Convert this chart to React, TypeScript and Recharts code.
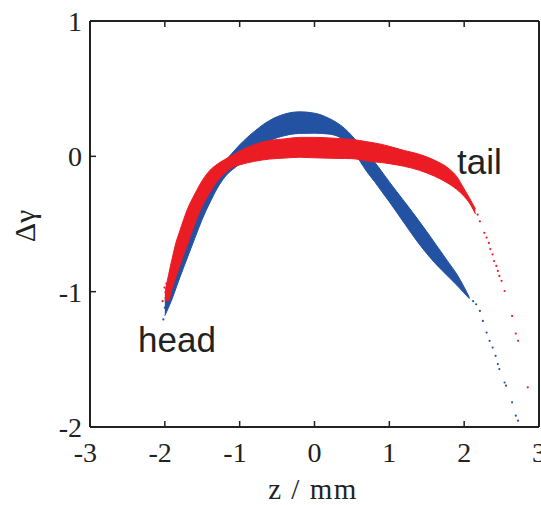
import React from 'react';
import { ComposedChart, Area, Scatter, XAxis, YAxis } from 'recharts';

// z positions (mm) where the two bands are sampled
const zGrid = [
  -2.0, -1.95, -1.9, -1.85, -1.8, -1.7, -1.6, -1.5, -1.4, -1.3, -1.2, -1.1, -1.0,
  -0.8, -0.6, -0.4, -0.2, 0, 0.2, 0.4, 0.5, 0.6, 0.7, 0.8, 0.9, 1.0,
  1.2, 1.4, 1.6, 1.8, 1.9, 2.0, 2.07, 2.15,
];

// blue band (upper / lower edge of delta gamma)
const blueHigh = [
  -1.046, -0.983, -0.876, -0.776, -0.706, -0.542, -0.405, -0.289, -0.199, -0.115, -0.039, 0.024, 0.085,
  0.186, 0.265, 0.312, 0.329, 0.319, 0.279, 0.207, 0.152, 0.088, 0.024, -0.04, -0.113, -0.189,
  -0.333, -0.48, -0.634, -0.791, -0.869, -0.967, -1.043, null,
];
const blueLow = [
  -1.178, -1.116, -1.049, -0.973, -0.896, -0.751, -0.606, -0.464, -0.344, -0.237, -0.154, -0.099, -0.058,
  0.024, 0.113, 0.153, 0.169, 0.171, 0.164, 0.117, 0.052, -0.029, -0.114, -0.185, -0.261, -0.336,
  -0.494, -0.649, -0.783, -0.896, -0.951, -1.01, -1.052, null,
];

// red band
const redHigh = [
  -1.01, -0.875, -0.75, -0.635, -0.551, -0.393, -0.279, -0.179, -0.105, -0.058, -0.024, 0.007, 0.038,
  0.088, 0.117, 0.129, 0.14, 0.14, 0.136, 0.129, 0.125, 0.117, 0.108, 0.099, 0.088, 0.074,
  0.043, 0.015, -0.028, -0.093, -0.149, -0.241, -0.307, -0.388,
];
const redLow = [
  -1.069, -1.066, -0.971, -0.889, -0.808, -0.653, -0.5, -0.368, -0.269, -0.184, -0.126, -0.082, -0.063,
  -0.037, -0.02, -0.013, -0.007, -0.011, -0.014, -0.016, -0.017, -0.024, -0.034, -0.041, -0.046, -0.054,
  -0.074, -0.103, -0.146, -0.205, -0.244, -0.296, -0.344, -0.425,
];

// loose particles at the ends of the bunch
const blueDotZ = [2.12, 2.16, 2.21, 2.25, 2.3, 2.34, 2.38, 2.42, 2.45, 2.47, 2.54, 2.56, 2.64, 2.69, 2.72, -2.02, -2.0];
const blueDotY = [-1.07, -1.093, -1.142, -1.216, -1.302, -1.363, -1.413, -1.474, -1.535, -1.572, -1.671, -1.695, -1.818, -1.916, -1.953, -1.205, -1.118];
const redDotZ = [2.18, 2.21, 2.27, 2.3, 2.33, 2.35, 2.38, 2.4, 2.43, 2.45, 2.47, 2.5, 2.54, 2.64, 2.69, 2.72, 2.85, -2.03, -2.005, -1.98];
const redDotY = [-0.43, -0.48, -0.565, -0.6, -0.64, -0.685, -0.724, -0.774, -0.81, -0.847, -0.884, -0.92, -0.995, -1.179, -1.31, -1.363, -1.707, -1.07, -0.97, -0.94];

const xTicks = [-3, -2, -1, 0, 1, 2, 3];
const yTicks = [-2, -1, 0, 1];

const BLUE = '#2352a2';
const RED = '#ec1c24';
const INK = '#222';
const SERIF = '"Liberation Serif", "Times New Roman", serif';
const SANS = '"Liberation Sans", Arial, sans-serif';

const bandData = zGrid.map((z, i) => ({
  z,
  blue: blueHigh[i] == null ? null : [blueLow[i], blueHigh[i]],
  red: [redLow[i], redHigh[i]],
}));
const blueDots = blueDotZ.map((z, i) => ({ z, y: blueDotY[i] }));
const redDots = redDotZ.map((z, i) => ({ z, y: redDotY[i] }));

// ticks point inward, MATLAB style
const BottomTick = (props: any) => {
  const { x, y, payload } = props;
  return (
    <g>
      <line x1={x} y1={y} x2={x} y2={y - 6} stroke={INK} strokeWidth={1.5} />
      <text x={x + 7} y={y + 35} textAnchor="end" fontFamily={SERIF} fontSize={28} fill={INK}>
        {payload.value}
      </text>
    </g>
  );
};

const LeftTick = (props: any) => {
  const { x, y, payload } = props;
  return (
    <g>
      <line x1={x} y1={y} x2={x + 6} y2={y} stroke={INK} strokeWidth={1.5} />
      <text x={x - 8} y={y + 10} textAnchor="end" fontFamily={SERIF} fontSize={28} fill={INK}>
        {payload.value}
      </text>
    </g>
  );
};

const TopTick = (props: any) => (
  <line x1={props.x} y1={props.y} x2={props.x} y2={props.y + 6} stroke={INK} strokeWidth={1.5} />
);

const RightTick = (props: any) => (
  <line x1={props.x} y1={props.y} x2={props.x - 6} y2={props.y} stroke={INK} strokeWidth={1.5} />
);

const Dot = (color: string) => (props: any) => (
  <circle cx={props.cx} cy={props.cy} r={1.1} fill={color} />
);

const axisLine = { stroke: INK, strokeWidth: 2 };

export default function App() {
  return (
    <div style={{ position: 'absolute', left: 0, top: 0, width: 541, height: 505, background: '#fff' }}>
      <ComposedChart
        width={541}
        height={505}
        data={bandData}
        margin={{ top: 20, right: 1, bottom: 77, left: 89 }}
      >
        <XAxis
          type="number"
          dataKey="z"
          domain={[-3, 3]}
          ticks={xTicks}
          height={1}
          tickSize={0}
          tickMargin={0}
          interval={0}
          axisLine={axisLine}
          tick={<BottomTick />}
        />
        <XAxis
          xAxisId="top"
          orientation="top"
          type="number"
          dataKey="z"
          domain={[-3, 3]}
          ticks={xTicks}
          height={1}
          tickSize={0}
          tickMargin={0}
          interval={0}
          axisLine={axisLine}
          tick={<TopTick />}
        />
        <YAxis
          type="number"
          domain={[-2, 1]}
          ticks={yTicks}
          width={1}
          tickSize={0}
          tickMargin={0}
          interval={0}
          axisLine={axisLine}
          tick={<LeftTick />}
        />
        <YAxis
          yAxisId="right"
          orientation="right"
          type="number"
          domain={[-2, 1]}
          ticks={yTicks}
          width={1}
          tickSize={0}
          tickMargin={0}
          interval={0}
          axisLine={axisLine}
          tick={<RightTick />}
        />
        <Area
          dataKey="blue"
          type="monotone"
          stroke={BLUE}
          strokeWidth={1}
          fill={BLUE}
          fillOpacity={1}
          isAnimationActive={false}
          dot={false}
          activeDot={false}
        />
        <Area
          dataKey="red"
          type="monotone"
          stroke={RED}
          strokeWidth={1}
          fill={RED}
          fillOpacity={1}
          isAnimationActive={false}
          dot={false}
          activeDot={false}
        />
        <Scatter data={blueDots} dataKey="y" fill={BLUE} shape={Dot(BLUE)} isAnimationActive={false} />
        <Scatter data={redDots} dataKey="y" fill={RED} shape={Dot(RED)} isAnimationActive={false} />
      </ComposedChart>
      <svg
        width={541}
        height={505}
        style={{ position: 'absolute', left: 0, top: 0, pointerEvents: 'none' }}
      >
        <text
          x={313}
          y={499}
          textAnchor="middle"
          fontFamily={SERIF}
          fontSize={29}
          letterSpacing={1.5}
          fill={INK}
        >
          z / mm
        </text>
        <text
          x={0}
          y={0}
          transform="translate(35 226) rotate(-90)"
          textAnchor="middle"
          fontFamily={SERIF}
          fontSize={30}
          fill={INK}
        >
          Δγ
        </text>
        <text x={138} y={352} fontFamily={SANS} fontSize={35} fill={INK}>
          head
        </text>
        <text x={457} y={174} fontFamily={SANS} fontSize={35} fill={INK}>
          tail
        </text>
      </svg>
    </div>
  );
}
